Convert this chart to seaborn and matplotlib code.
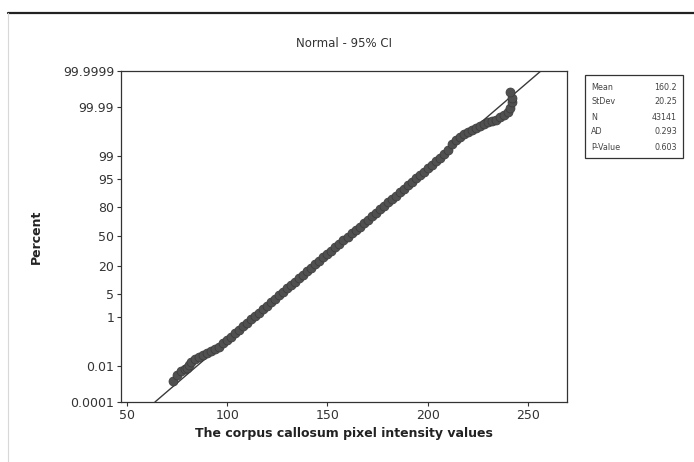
import math
import numpy as np
import pandas as pd
import seaborn as sns
import matplotlib
matplotlib.use("Agg")
import matplotlib.pyplot as plt
from matplotlib.patches import Rectangle
from matplotlib.lines import Line2D

# Pixel intensity values (x) and their cumulative percent (y)
intensity = [73, 75, 77, 79, 80, 81, 82, 84, 86, 88, 90, 92, 94, 96, 98,
             100, 102, 104, 106, 108, 110, 112, 114, 116, 118, 120, 122, 124,
             126, 128, 130, 132, 134, 136, 138, 140, 142, 144, 146, 148, 150,
             152, 154, 156, 158, 160, 162, 164, 166, 168, 170, 172, 174, 176,
             178, 180, 182, 184, 186, 188, 190, 192, 194, 196, 198, 200, 202,
             204, 206, 208, 210, 212, 214, 216, 218, 220, 222, 224, 226, 228,
             230, 232, 234, 236, 238, 240, 241, 242, 242, 241]
percent = [0.00166, 0.00345, 0.00567, 0.0072, 0.00784, 0.0118, 0.0159, 0.0216,
           0.0265, 0.0337, 0.0420, 0.0510, 0.0620, 0.0762, 0.106,
           0.148, 0.203, 0.276, 0.372, 0.497, 0.659, 0.866, 1.13, 1.45, 1.86,
           2.36, 2.97, 3.69, 4.56, 5.59, 6.80, 8.18, 9.78, 11.60, 13.65, 15.92,
           18.44, 21.19, 24.16, 27.35, 30.72, 34.27, 37.98, 41.79, 45.67, 49.61,
           53.54, 57.44, 61.27, 65.00, 68.58, 72.00, 75.22, 78.24, 81.03, 83.59,
           85.91, 88.01, 89.87, 91.51, 92.94, 94.18, 95.25, 96.15, 96.90, 97.53,
           98.05, 98.47, 98.814, 99.087, 99.35, 99.598, 99.720, 99.795, 99.841,
           99.869, 99.889, 99.910, 99.924, 99.938, 99.950, 99.955, 99.961,
           99.969, 99.975, 99.982, 99.9892, 99.9943, 99.9964, 99.99834]

# Summary statistics of the sample
stat_names = ["Mean", "StDev", "N", "AD", "P-Value"]
stat_values = ["160.2", "20.25", "43141", "0.293", "0.603"]
mean, stdev = 160.2, 20.25

y_ticks = [0.0001, 0.01, 1, 5, 20, 50, 80, 95, 99, 99.99, 99.9999]
y_tick_labels = ["0.0001", "0.01", "1", "5", "20", "50", "80", "95", "99",
                 "99.99", "99.9999"]
x_ticks = [50, 100, 150, 200, 250]

# Standard normal CDF / quantile used for the probability scale
_phi = np.vectorize(lambda z: 0.5 * (1.0 + math.erf(z / math.sqrt(2.0))),
                    otypes=[float])


def pct_to_z(p):
    q = np.clip(np.asarray(p, dtype=float) / 100.0, 1e-12, 1 - 1e-12)
    lo = np.full(q.shape, -8.0)
    hi = np.full(q.shape, 8.0)
    for _ in range(60):
        mid = 0.5 * (lo + hi)
        below = _phi(mid) < q
        lo = np.where(below, mid, lo)
        hi = np.where(below, hi, mid)
    return 0.5 * (lo + hi)


def z_to_pct(z):
    return 100.0 * _phi(np.asarray(z, dtype=float))


sns.set_style("ticks")
plt.rcParams["font.family"] = ["DejaVu Sans"]

fig = plt.figure(figsize=(6.94, 4.62), dpi=100)
fig.patch.set_facecolor("white")
ax = fig.add_axes([121 / 694, 1 - 402 / 462, 446 / 694, 331 / 462])
ax.set_yscale("function", functions=(pct_to_z, z_to_pct))

df = pd.DataFrame({"intensity": intensity, "percent": percent})

# Fitted normal line across the full probability range
p_lo, p_hi = y_ticks[0], y_ticks[-1]
z_ends = pct_to_z([p_lo, p_hi])
fit = pd.DataFrame({"intensity": mean + stdev * z_ends,
                    "percent": [p_lo, p_hi]})
sns.lineplot(data=fit, x="intensity", y="percent", ax=ax, color="#3a3a3a",
             linewidth=1.0, sort=False, zorder=2)

sns.scatterplot(data=df, x="intensity", y="percent", ax=ax, s=42,
                color="#505050", edgecolor="#3a3a3a", linewidth=0.5,
                zorder=3)

ax.set_xlim(47, 269.5)
ax.set_ylim(p_lo, p_hi)
ax.set_yticks(y_ticks)
ax.set_yticklabels(y_tick_labels)
ax.set_xticks(x_ticks)
ax.set_xticklabels([str(t) for t in x_ticks])
ax.minorticks_off()
ax.tick_params(axis="both", direction="out", length=3, width=0.8,
               color="#333333", labelcolor="#333333", labelsize=9, pad=2)
for sp in ax.spines.values():
    sp.set_color("#333333")
    sp.set_linewidth(0.9)

ax.set_xlabel("The corpus callosum pixel intensity values", fontsize=9,
              fontweight="bold", color="#222222", labelpad=4)
ax.set_ylabel("Percent", fontsize=9, fontweight="bold", color="#222222",
              labelpad=14)
ax.set_title("Normal - 95% CI", fontsize=8.5, color="#333333", pad=17)

# Summary statistics box
W, H = 694, 462
bx0, by0, bx1, by1 = 585, 75, 683, 158
fig.patches.append(Rectangle((bx0 / W, 1 - by1 / H), (bx1 - bx0) / W,
                             (by1 - by0) / H, transform=fig.transFigure,
                             facecolor="white", edgecolor="#333333",
                             linewidth=0.9))
for i, (name, val) in enumerate(zip(stat_names, stat_values)):
    yy = 1 - (87 + 15 * i) / H
    fig.text(591 / W, yy, name, fontsize=5.8, color="#444444", va="center")
    fig.text(677 / W, yy, val, fontsize=5.8, color="#444444", va="center",
             ha="right")

# Window frame edges
fig.add_artist(Line2D([8 / W, 1], [1 - 13 / H, 1 - 13 / H],
                      transform=fig.transFigure, color="#222222",
                      linewidth=1.6))
fig.add_artist(Line2D([8 / W, 8 / W], [0, 1 - 13 / H],
                      transform=fig.transFigure, color="#d8d8d8",
                      linewidth=0.8))

fig.savefig("out.png", dpi=100)
